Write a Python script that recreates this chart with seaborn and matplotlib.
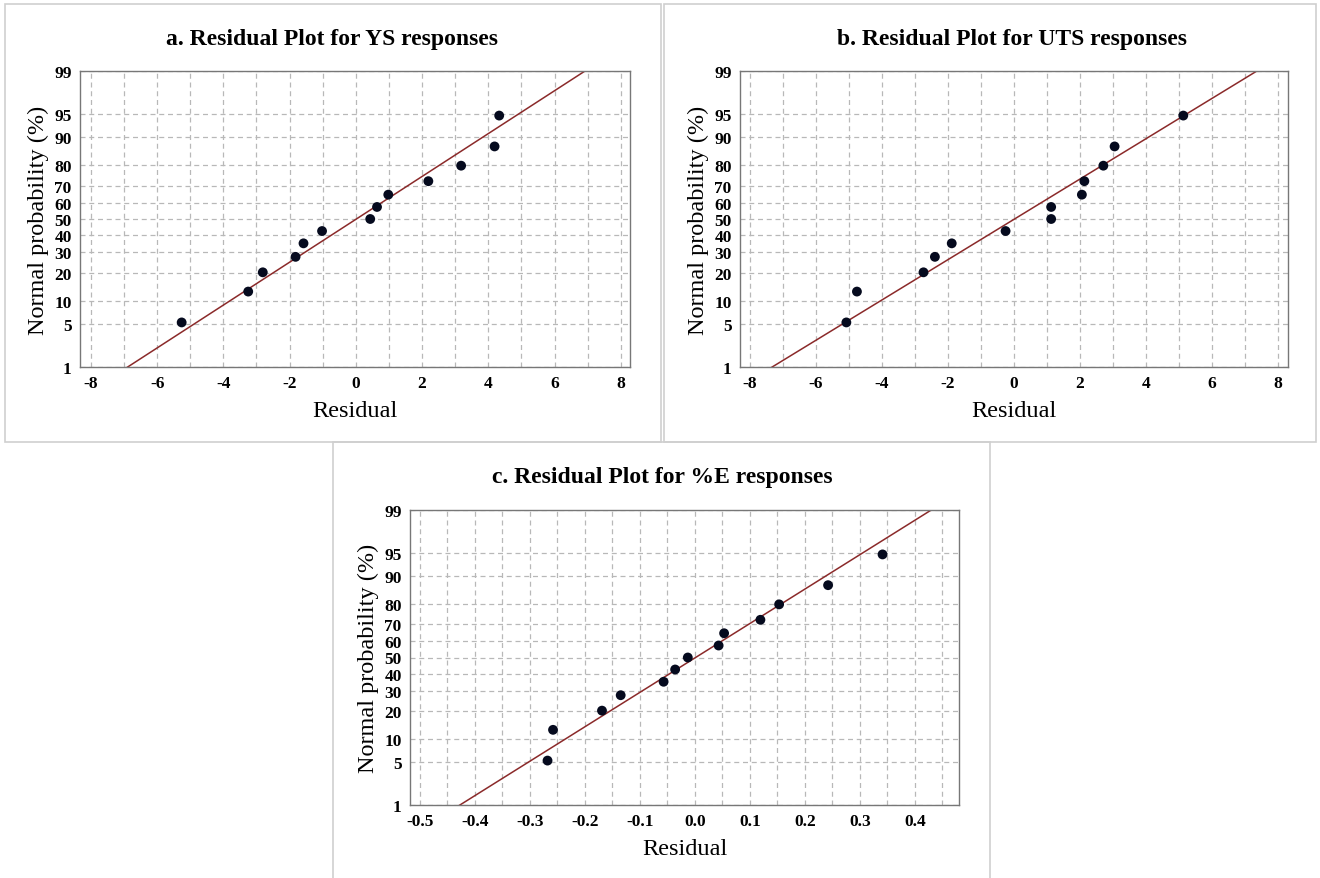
import numpy as np
import pandas as pd
import seaborn as sns
import matplotlib
matplotlib.use("Agg")
import matplotlib.pyplot as plt
from matplotlib.patches import Rectangle
from matplotlib.ticker import FixedLocator, MultipleLocator
from statistics import NormalDist

# ---- data ----
PROB = [5.2, 12.7, 20.1, 27.6, 35.1, 42.5, 50.0, 57.5, 64.9, 72.4, 79.9, 87.3, 94.8]
RES_YS = [-5.26, -3.25, -2.81, -1.82, -1.58, -1.02, 0.435, 0.64, 0.98, 2.19, 3.18, 4.19, 4.33]
RES_UTS = [-5.07, -4.75, -2.735, -2.39, -1.88, -0.25, 1.13, 1.13, 2.06, 2.135, 2.71, 3.05, 5.13]
RES_E = [-0.268, -0.258, -0.169, -0.135, -0.057, -0.036, -0.013, 0.043, 0.053, 0.119, 0.153, 0.242, 0.341]
Y_TICKS = [1, 5, 10, 20, 30, 40, 50, 60, 70, 80, 90, 95, 99]
TITLES = ["a. Residual Plot for YS responses",
          "b. Residual Plot for UTS responses",
          "c. Residual Plot for %E responses"]

sns.set_theme(style="white")
plt.rcParams['font.family'] = ['Liberation Serif', 'DejaVu Serif']
plt.rcParams['text.color'] = 'black'
plt.rcParams['axes.labelcolor'] = 'black'

nd = NormalDist()
_inv_cdf = np.vectorize(lambda v: nd.inv_cdf(v / 100.0), otypes=[float])
_cdf = np.vectorize(lambda v: nd.cdf(v) * 100.0, otypes=[float])

def fwd(p):
    p = np.clip(np.asarray(p, dtype=float), 1e-6, 100 - 1e-6)
    return _inv_cdf(p)

def inv(z):
    return _cdf(np.asarray(z, dtype=float))

W, H = 1320, 879
fig = plt.figure(figsize=(W / 100, H / 100), dpi=100)
fig.patch.set_facecolor("white")

def fx(px):
    return px / W

def fy(py):
    return 1 - py / H

# panel borders
for (x0, y0, x1, y1) in [(5, 5, 661, 443), (664, 5, 1316, 443), (333, 443, 990, 880)]:
    fig.add_artist(Rectangle((fx(x0), fy(y1)), fx(x1) - fx(x0), fy(y0) - fy(y1),
                             transform=fig.transFigure, fill=False,
                             edgecolor="#cfcfcf", linewidth=1.2, zorder=0))

panels = [
    dict(res=RES_YS, box=(80, 72, 630, 368), xlim=(-8.33, 8.28), minor=1,
         xticks=[-8, -6, -4, -2, 0, 2, 4, 6, 8], fmt="{:g}", title_x=332),
    dict(res=RES_UTS, box=(740, 72, 1288, 368), xlim=(-8.29, 8.30), minor=1,
         xticks=[-8, -6, -4, -2, 0, 2, 4, 6, 8], fmt="{:g}", title_x=1012),
    dict(res=RES_E, box=(410, 511, 959, 806), xlim=(-0.518, 0.48), minor=0.05,
         xticks=[-0.5, -0.4, -0.3, -0.2, -0.1, 0.0, 0.1, 0.2, 0.3, 0.4], fmt="{:.1f}", title_x=662),
]

for i, pdef in enumerate(panels):
    l, t, r, b = pdef["box"]
    ax = fig.add_axes([fx(l), fy(b), fx(r) - fx(l), fy(t) - fy(b)])
    ax.set_yscale("function", functions=(fwd, inv))
    ax.set_ylim(1, 99)
    ax.set_xlim(*pdef["xlim"])

    res = np.array(pdef["res"])
    df = pd.DataFrame({"Residual": res, "Prob": PROB})
    mu, sd = res.mean(), res.std(ddof=1)
    pl = np.array([0.5, 99.5])
    line_df = pd.DataFrame({"x": mu + sd * fwd(pl), "y": pl})

    ax.xaxis.set_major_locator(FixedLocator(pdef["xticks"]))
    ax.xaxis.set_minor_locator(MultipleLocator(pdef["minor"]))
    ax.yaxis.set_major_locator(FixedLocator(Y_TICKS))
    ax.yaxis.set_minor_locator(FixedLocator([]))
    ax.grid(True, which="both", axis="x", linestyle=(0, (4, 3)), color="#b8b8b8", linewidth=0.9)
    ax.grid(True, which="major", axis="y", linestyle=(0, (4, 3)), color="#b8b8b8", linewidth=0.9)
    ax.set_axisbelow(True)

    sns.lineplot(data=line_df, x="x", y="y", ax=ax, color="#8b2a2a", linewidth=1.1,
                 sort=False, zorder=2)
    sns.scatterplot(data=df, x="Residual", y="Prob", ax=ax, color="#050a1e",
                    s=50, edgecolor="none", zorder=3)
    ax.set_ylim(1, 99)
    ax.set_xlim(*pdef["xlim"])

    ax.set_xticks(pdef["xticks"])
    ax.set_xticklabels([pdef["fmt"].format(v) for v in pdef["xticks"]])
    ax.set_yticks(Y_TICKS)
    ax.set_yticklabels([str(v) for v in Y_TICKS])
    ax.yaxis.set_minor_locator(FixedLocator([]))
    ax.tick_params(axis="both", which="both", direction="out", length=3, width=0.8,
                   colors="#666666", labelcolor="black", labelsize=12.5, pad=3)
    for lab in ax.get_xticklabels() + ax.get_yticklabels():
        lab.set_fontweight("bold")
    for sp in ax.spines.values():
        sp.set_color("#777777")
        sp.set_linewidth(1.0)

    ax.set_xlabel("Residual", fontsize=17.5, labelpad=6)
    ax.set_ylabel("Normal probability (%)", fontsize=17.5, labelpad=4)
    ty = 40 if i < 2 else 478
    fig.text(fx(pdef["title_x"]), fy(ty), TITLES[i], ha="center", va="center",
             fontsize=17, fontweight="bold")

fig.savefig("out.png", dpi=100, facecolor="white")
